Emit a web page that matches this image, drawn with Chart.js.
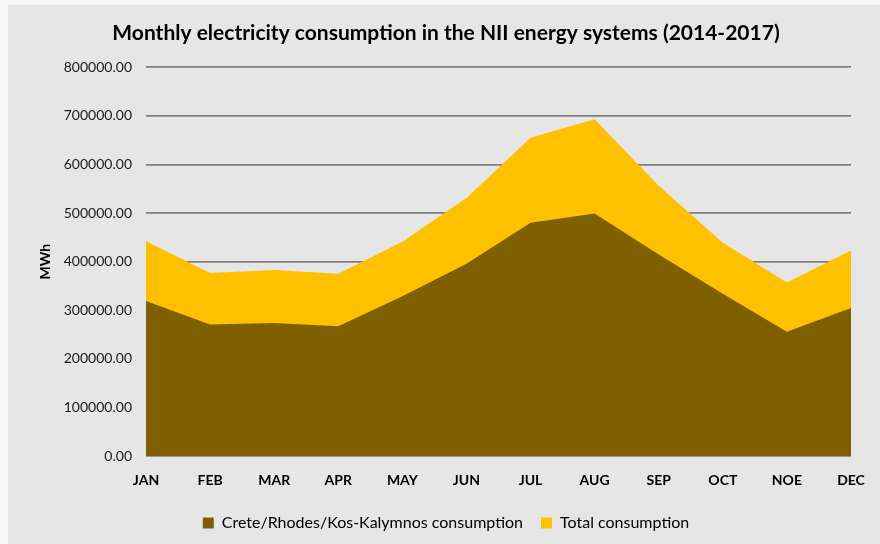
<!DOCTYPE html>
<html>
<head>
<meta charset="utf-8">
<script src="https://cdn.jsdelivr.net/npm/chart.js@4.4.1/dist/chart.umd.min.js"></script>
<style>
  body { margin: 0; background: #f7f7f7; }
  #wrap { position: absolute; left: 8px; top: 5px; width: 872px; height: 539px; background: #e7e6e6; }
</style>
</head>
<body>
<div id="wrap"><canvas id="myChart" width="872" height="539"></canvas></div>
<script>
'use strict';

const months = ['JAN','FEB','MAR','APR','MAY','JUN','JUL','AUG','SEP','OCT','NOE','DEC'];
const islandsConsumption = [319000, 271000, 274000, 267000, 329000, 396000, 480000, 499000, 415000, 334000, 256000, 305000];
const totalConsumption = [442000, 377000, 383000, 375000, 441000, 531000, 655000, 693000, 556000, 439000, 357000, 423000];
const seriesNames = ['Crete/Rhodes/Kos-Kalymnos consumption', 'Total consumption'];

const fontName = 'Lato, "Open Sans", sans-serif';

let ctx = document.getElementById('myChart').getContext('2d');
let myChart = new Chart(ctx, {
  type: 'line',
  data: {
    labels: months,
    datasets: [{
      label: seriesNames[0],
      data: islandsConsumption,
      backgroundColor: '#7f6000',
      borderColor: '#7f6000',
      borderWidth: 0,
      pointRadius: 0,
      fill: 'origin'
    },
    {
      label: seriesNames[1],
      data: totalConsumption,
      backgroundColor: '#ffc000',
      borderColor: '#ffc000',
      borderWidth: 0,
      pointRadius: 0,
      fill: 'origin'
    }]
  },
  options: {
    responsive: false,
    animation: false,
    layout: { padding: { left: 33, right: 29, top: 10, bottom: 3 } },
    plugins: {
      title: {
        display: true,
        text: 'Monthly electricity consumption in the NII energy systems (2014-2017)',
        color: '#000',
        font: { family: fontName, size: 21, weight: 'bold' },
        padding: { top: 6, bottom: 21 }
      },
      legend: {
        position: 'bottom',
        labels: {
          color: '#000',
          boxWidth: 11,
          boxHeight: 11,
          padding: 18,
          font: { family: fontName, size: 16 }
        }
      },
      tooltip: { enabled: false }
    },
    scales: {
      x: {
        grid: { display: false },
        border: { display: false },
        ticks: {
          color: '#000',
          padding: 8,
          maxRotation: 0,
          font: { family: fontName, size: 14, weight: 'bold' }
        }
      },
      y: {
        min: 0,
        max: 800000,
        afterFit: function(scale) { scale.width = 105; },
        grid: { color: '#7f7f7f', lineWidth: 1.7, drawTicks: false },
        border: { display: false },
        title: {
          display: true,
          text: 'MWh',
          color: '#000',
          font: { family: fontName, size: 14, weight: 'bold' },
          padding: { top: -4, bottom: 0 }
        },
        ticks: {
          stepSize: 100000,
          color: '#1a1a1a',
          padding: 14,
          font: { family: fontName, size: 14 },
          callback: function(v) { return v.toFixed(2); }
        }
      }
    }
  }
});
</script>
</body>
</html>
